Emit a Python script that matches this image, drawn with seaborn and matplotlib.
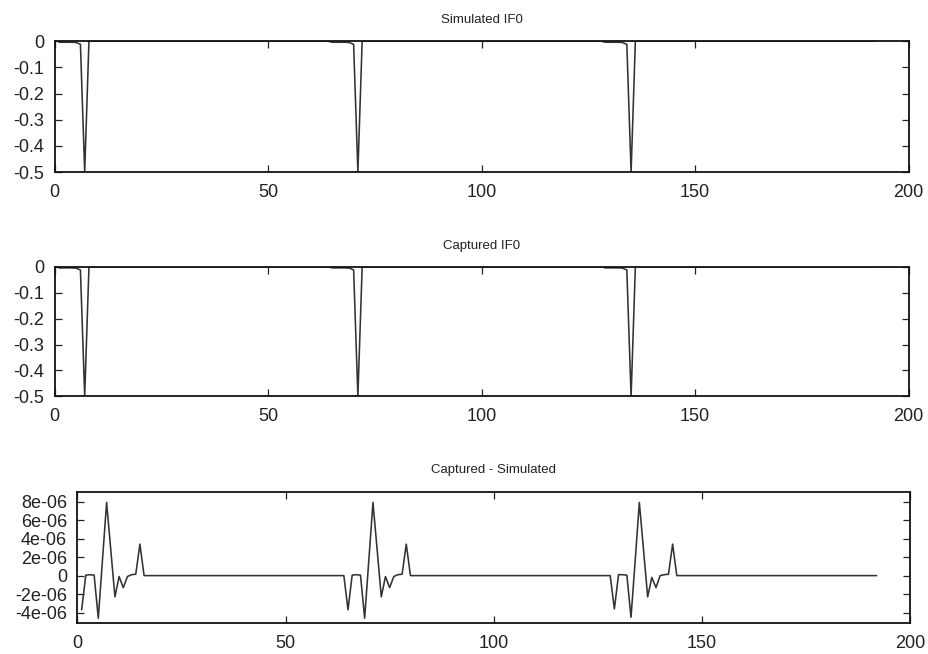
import numpy as np
import matplotlib
matplotlib.use("Agg")
import matplotlib.pyplot as plt
import seaborn as sns

# sample index
x = np.arange(1, 193)

# one IF0 burst per period (offsets -6 .. +1 around the spike), then flat zero
sim_burst1 = [-0.004, -0.004, -0.004, -0.004, -0.005, -0.012, -0.5, 0.001]
sim_burst2 = [-0.004, -0.004, -0.004, -0.004, -0.005, -0.012, -0.5, 0.001]
sim_burst3 = [-0.004, -0.004, -0.004, -0.004, -0.005, -0.012, -0.5, 0.001]
cap_burst1 = [-0.004, -0.004, -0.004, -0.004, -0.005, -0.012, -0.5, 0.001]
cap_burst2 = [-0.004, -0.004, -0.004, -0.004, -0.005, -0.012, -0.5, 0.001]
cap_burst3 = [-0.004, -0.004, -0.004, -0.004, -0.005, -0.012, -0.5, 0.001]
if0_gap = 56

# difference burst (offsets -6 .. +9), in units of 1e-6
diff_burst1 = [-3.7, 0.05, 0.1, 0.05, -4.6, 1.6, 7.9, 2.8, -2.3, -0.1, -1.3, -0.1, 0.1, 0.15, 3.4, 0.0]
diff_burst2 = [-3.7, 0.05, 0.1, 0.05, -4.6, 1.6, 7.9, 2.8, -2.3, -0.1, -1.3, -0.1, 0.1, 0.15, 3.4, 0.0]
diff_burst3 = [-3.6, 0.1, 0.1, 0.05, -4.5, 1.6, 7.9, 2.8, -2.3, -0.2, -1.3, 0.0, 0.1, 0.15, 3.4, 0.0]
diff_gap = 48

xticks = [0, 50, 100, 150, 200]
if0_ticks = [0, -0.1, -0.2, -0.3, -0.4, -0.5]
if0_ticklabels = ["0", "-0.1", "-0.2", "-0.3", "-0.4", "-0.5"]
diff_ticks = [8e-06, 6e-06, 4e-06, 2e-06, 0, -2e-06, -4e-06]
diff_ticklabels = ["8e-06", "6e-06", "4e-06", "2e-06", "0", "-2e-06", "-4e-06"]

titles = ["Simulated IF0", "Captured IF0", "Captured - Simulated"]


def build(bursts, gap):
    out = []
    for b in bursts:
        out += list(b) + [0.0] * gap
    return np.array(out)


sim = build([sim_burst1, sim_burst2, sim_burst3], if0_gap)
cap = build([cap_burst1, cap_burst2, cap_burst3], if0_gap)
diff = build([diff_burst1, diff_burst2, diff_burst3], diff_gap) * 1e-6

sns.set_style("ticks")
plt.rcParams['font.family'] = ['Liberation Sans', 'DejaVu Sans']

fig = plt.figure(figsize=(9.29, 6.54), dpi=100)
ax1 = fig.add_axes([0.059, 0.737, 0.919, 0.200])
ax2 = fig.add_axes([0.059, 0.394, 0.919, 0.198])
ax3 = fig.add_axes([0.0834, 0.0474, 0.896, 0.201])

line_kw = dict(color="#333333", linewidth=1.15)
sns.lineplot(x=x, y=sim, ax=ax1, **line_kw)
sns.lineplot(x=x, y=cap, ax=ax2, **line_kw)
sns.lineplot(x=x, y=diff, ax=ax3, **line_kw)

for ax, title in zip([ax1, ax2, ax3], titles):
    ax.set_xlim(0, 200)
    ax.set_xticks(xticks)
    ax.set_title(title, fontsize=9.5, pad=13, color="#222222")
    ax.tick_params(direction="in", length=5, width=0.9, top=True, right=True,
                   labelsize=13, colors="#222222")
    ax.tick_params(axis="x", pad=8.5)
    ax.tick_params(axis="y", pad=7.5)
    for s in ax.spines.values():
        s.set_linewidth(1.3)
        s.set_color("#111111")
    ax.set_xlabel("")
    ax.set_ylabel("")

for ax in [ax1, ax2]:
    ax.set_ylim(-0.5, 0.0)
    ax.set_yticks(if0_ticks)
    ax.set_yticklabels(if0_ticklabels)

ax3.set_ylim(-5.12e-06, 9.08e-06)
ax3.set_yticks(diff_ticks)
ax3.set_yticklabels(diff_ticklabels)

fig.savefig("out.png", dpi=100)
